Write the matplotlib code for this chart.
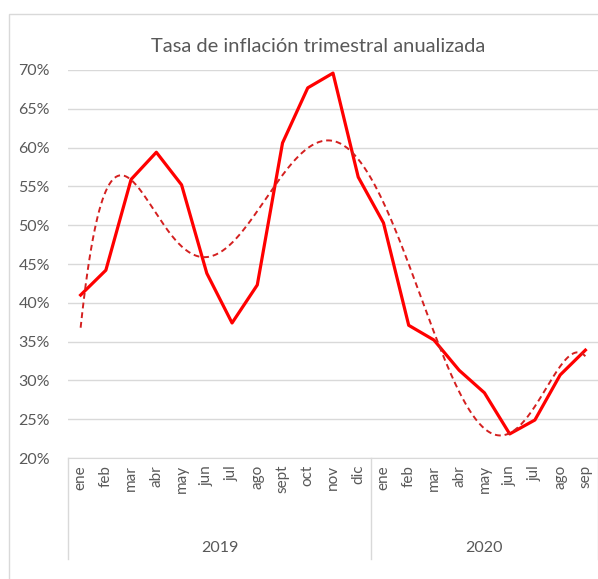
import matplotlib.pyplot as plt
import matplotlib.transforms as mtransforms
from matplotlib.patches import Rectangle
import numpy as np

plt.rcParams['font.family'] = ['Lato', 'DejaVu Sans']

# data
months = ["ene", "feb", "mar", "abr", "may", "jun", "jul", "ago", "sept", "oct", "nov", "dic",
          "ene", "feb", "mar", "abr", "may", "jun", "jul", "ago", "sep"]
years = ["2019", "2020"]
year_len = [12, 9]
inflation = [41.0, 44.2, 55.9, 59.4, 55.2, 43.8, 37.4, 42.3, 60.6, 67.7, 69.6, 56.2,
             50.3, 37.1, 35.2, 31.3, 28.4, 23.1, 24.9, 30.7, 33.9]

grey = "#595959"
grid = "#d9d9d9"

fig = plt.figure(figsize=(5.98, 5.79), dpi=100)
ax = fig.add_axes([68 / 598, 121 / 579, 530 / 598, 388 / 579])

x = np.arange(len(inflation))
ax.plot(x, inflation, color="#ff0000", lw=2.3, zorder=3, clip_on=False)

# polynomial trendline (order 6), like Excel
coef = np.polyfit(x + 1, inflation, 6)
xs = np.linspace(0, len(inflation) - 1, 300)
ax.plot(xs, np.polyval(coef, xs + 1), color="#d42020", lw=1.4, ls=(0, (3, 2)), zorder=4, clip_on=False)

ax.set_xlim(-0.5, len(inflation) - 0.5)
ax.set_ylim(20, 70)
ax.set_yticks(np.arange(20, 71, 5))
ax.set_yticklabels([f"{v}%" for v in range(20, 71, 5)])
ax.yaxis.grid(True, color=grid, lw=1)
ax.set_axisbelow(True)
ax.tick_params(axis="y", length=0, pad=13, labelsize=11.5, labelcolor=grey)

ax.set_xticks(x)
ax.set_xticklabels(months, rotation=90, va="top", ha="center")
ax.tick_params(axis="x", length=0, pad=5, labelsize=11, labelcolor=grey)

for s in ["top", "right", "left"]:
    ax.spines[s].set_visible(False)
ax.spines["bottom"].set_color(grid)

# year separators and labels
trans = mtransforms.blended_transform_factory(ax.transData, ax.transAxes)
edges = np.concatenate([[0], np.cumsum(year_len)]) - 0.5
for e in edges:
    ax.plot([e, e], [0, -0.26], color=grid, lw=1, transform=trans, clip_on=False)
for i, yr in enumerate(years):
    mid = (edges[i] + edges[i + 1]) / 2
    ax.text(mid, -0.232, yr, transform=trans, ha="center", va="center", fontsize=11.5, color=grey)

fig.text(318 / 598, 1 - 46 / 579, "Tasa de inflación trimestral anualizada", fontsize=14.5,
         color=grey, ha="center", va="center")

fig.patches.append(Rectangle((9 / 598, -0.05), 1.0, 1 - 14 / 579 + 0.05, transform=fig.transFigure,
                             fill=False, edgecolor=grid, lw=1))

fig.savefig("out.png", dpi=100)
